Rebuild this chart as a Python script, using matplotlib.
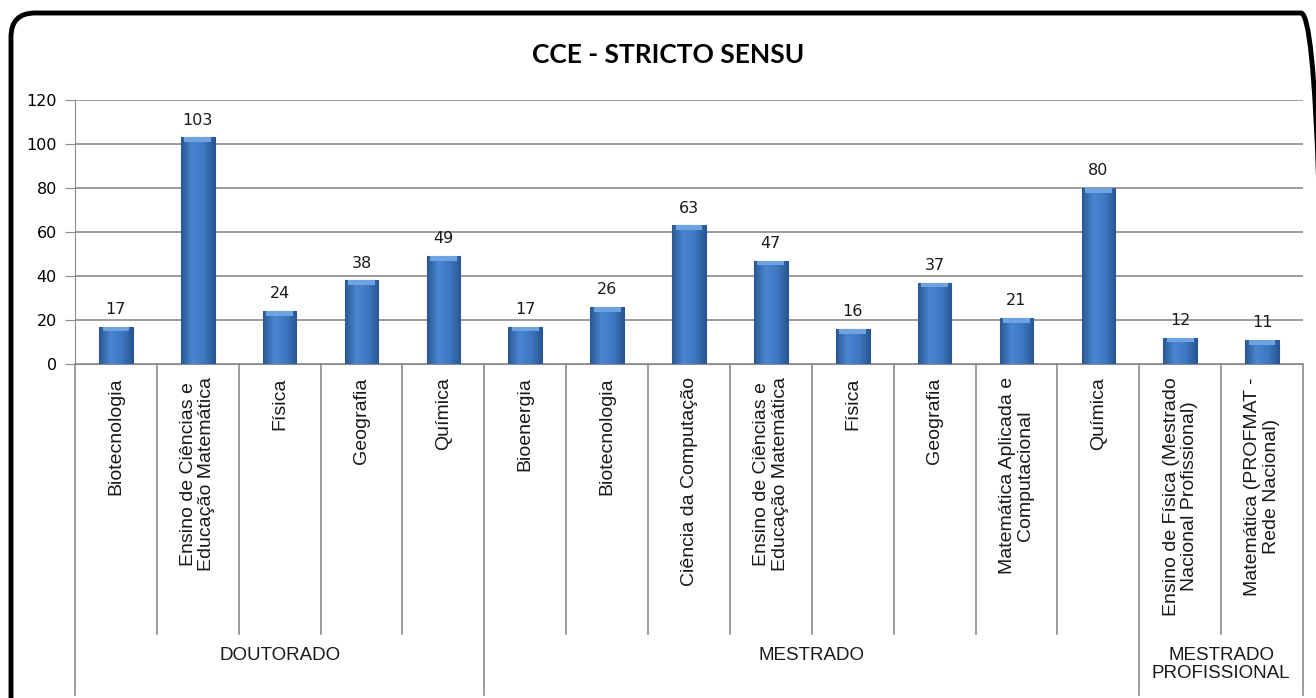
import numpy as np
import matplotlib
matplotlib.use("Agg")
import matplotlib.pyplot as plt
import matplotlib.transforms as mtransforms
from matplotlib.patches import FancyBboxPatch
from matplotlib.colors import LinearSegmentedColormap

# ---- data ----
categories = [
    "Biotecnologia", "Ensino de Ciências e\nEducação Matemática", "Física", "Geografia", "Química",
    "Bioenergia", "Biotecnologia", "Ciência da Computação", "Ensino de Ciências e\nEducação Matemática",
    "Física", "Geografia", "Matemática Aplicada e\nComputacional", "Química",
    "Ensino de Física (Mestrado\nNacional Profissional)", "Matemática (PROFMAT -\nRede Nacional)",
]
values = [17, 103, 24, 38, 49, 17, 26, 63, 47, 16, 37, 21, 80, 12, 11]
groups = ["DOUTORADO", "MESTRADO", "MESTRADO\nPROFISSIONAL"]
group_sizes = [5, 8, 2]
yticks = [0, 20, 40, 60, 80, 100, 120]

W, H = 1316, 698
fig = plt.figure(figsize=(W / 100, H / 100), dpi=100)
fig.patch.set_facecolor("white")

# background axes in pixel units, for the rounded outer frame
bg = fig.add_axes([0, 0, 1, 1])
bg.set_xlim(0, W)
bg.set_ylim(0, H)
bg.axis("off")
bg.add_patch(FancyBboxPatch((11, -40), 1325 - 11, H - 13 + 40,
                            boxstyle="round,pad=0,rounding_size=24",
                            fill=False, ec="black", lw=3.5))

left, right, top, bottom = 75, 1303, 100, 364
ax = fig.add_axes([left / W, (H - bottom) / H, (right - left) / W, (bottom - top) / H])

n = len(values)
x = np.arange(n)

ax.set_yticks(yticks)
ax.yaxis.grid(True, color="#8c8c8c", lw=1.2)
ax.set_axisbelow(True)
ax.tick_params(axis="y", length=7, color="#8c8c8c", labelsize=11.5, pad=6)
ax.set_xticks([])
for s in ["top", "right"]:
    ax.spines[s].set_visible(False)
ax.spines["left"].set_color("#8c8c8c")
ax.spines["bottom"].set_color("#8c8c8c")

bars = ax.bar(x, values, width=0.41, color="#3a70bd", edgecolor="#2b5592", lw=0.8, zorder=2)

# horizontal shading inside each bar + light bevel on top
cmap = LinearSegmentedColormap.from_list("bar", ["#2a5794", "#4a86d0", "#3f78c2", "#2a5794"])
grad = np.linspace(0, 1, 64).reshape(1, -1)
for b in bars:
    x0, h = b.get_x(), b.get_height()
    im = ax.imshow(grad, cmap=cmap, aspect="auto", zorder=3,
                   extent=(x0, x0 + b.get_width(), 0, h))
    im.set_clip_path(b)
    bev = min(2.2, h)
    ax.bar(x0 + b.get_width() / 2, bev, bottom=h - bev,
           width=b.get_width() * 0.8, color="#6ea3e2", lw=0, zorder=4)
ax.set_xlim(-0.5, n - 0.5)
ax.set_ylim(0, 120)
ax.spines["left"].set_bounds(0, 120)

for xi, v in zip(x, values):
    ax.annotate(str(v), (xi, v), xytext=(0, 7), textcoords="offset points",
                ha="center", va="bottom", fontsize=11.5, color="#1a1a1a")

# category labels + separators below the axis
trans = mtransforms.blended_transform_factory(ax.transData, ax.transAxes)
ph = bottom - top
sep_low = (bottom - 634) / ph
grp_low = (bottom - 695) / ph
for xi, lab in zip(x, categories):
    ax.text(xi, -0.05, lab, rotation=90, ha="center", va="top", transform=trans,
            fontsize=14, family="Liberation Sans", color="#1a1a1a", linespacing=1.1)

bounds = np.cumsum([0] + group_sizes)
for i in range(0, n + 1):
    low = grp_low if i in bounds else sep_low
    ax.plot([i - 0.5, i - 0.5], [0, low], transform=trans,
            color="#8c8c8c", lw=1.2, clip_on=False)

for g, a, b in zip(groups, bounds[:-1], bounds[1:]):
    mid = (a + b - 1) / 2
    ax.text(mid, (bottom - 647) / ph, g, ha="center", va="top", transform=trans,
            fontsize=13.5, family="Liberation Sans", color="#1a1a1a", linespacing=1.05)

fig.text(0.508, 1 - 55 / H, "CCE - STRICTO SENSU", ha="center", va="center",
         fontsize=19, fontweight="bold", family="Lato", color="black")

fig.savefig("out.png", dpi=100)
